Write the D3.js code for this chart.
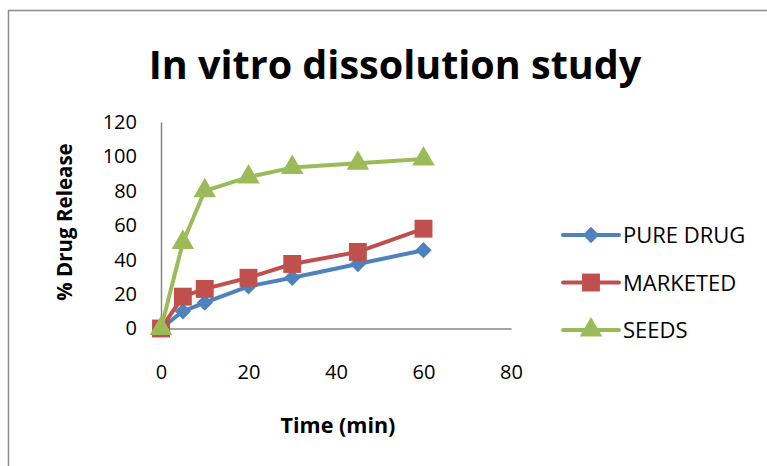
<!DOCTYPE html>
<html>
<head>
<meta charset="utf-8">
<style>
  body { margin: 0; background: white; }
  svg { display: block; font-family: 'Open Sans', 'Liberation Sans', Arial, sans-serif; }
</style>
</head>
<body>
<svg width="767" height="466"></svg>
<script src="https://d3js.org/d3.v7.min.js"></script>
<script>
  // time points (min)
  let times = [0, 5, 10, 20, 30, 45, 60];
  let pureDrug = [0, 10, 15, 24.5, 29.5, 37.5, 45.5];
  let marketed = [0, 18.5, 23, 29.5, 37.5, 44.5, 58];
  let seeds = [0, 50, 80, 88, 93.5, 96, 98.5];
  let xTicks = [0, 20, 40, 60, 80];
  let yTicks = [0, 20, 40, 60, 80, 100, 120];

  let series = [
    {name: "PURE DRUG", values: pureDrug, color: "#4F81BD", symbol: d3.symbolDiamond2, size: 170},
    {name: "MARKETED", values: marketed, color: "#C0504D", symbol: d3.symbolSquare, size: 320},
    {name: "SEEDS", values: seeds, color: "#9BBB59", symbol: d3.symbolTriangle, size: 220}
  ];

  let svg = d3.select("svg");

  // outer frame
  svg.append("rect")
    .attr("x", 8.5).attr("y", 10.5)
    .attr("width", 780).attr("height", 480)
    .style("fill", "none").style("stroke", "#8c8c8c").style("stroke-width", 1.5);

  let x = d3.scaleLinear().domain([0, 80]).range([161, 511]);
  let y = d3.scaleLinear().domain([0, 120]).range([328.5, 122]);

  // axes
  let xAxis = svg.append("g")
    .attr("transform", `translate(0,${y(0)})`)
    .call(d3.axisBottom(x).tickValues(xTicks).tickSize(0).tickPadding(36));
  let yAxis = svg.append("g")
    .attr("transform", `translate(${x(0)},0)`)
    .call(d3.axisLeft(y).tickValues(yTicks).tickSize(0).tickPadding(24));

  [xAxis, yAxis].forEach(a => {
    a.select(".domain").style("stroke", "#868686").style("stroke-width", 1.5);
    a.selectAll("text").style("font-size", "20px").style("fill", "#000")
      .style("font-family", "'Open Sans', 'Liberation Sans', Arial, sans-serif");
  });

  let line = d3.line()
    .x((d, i) => x(times[i]))
    .y(d => y(d));

  series.forEach(s => {
    svg.append("path")
      .datum(s.values)
      .attr("d", line)
      .style("fill", "none")
      .style("stroke", s.color)
      .style("stroke-width", 4)
      .style("stroke-linejoin", "round");

    svg.append("g")
      .selectAll("path")
      .data(s.values)
      .join("path")
      .attr("d", d3.symbol().type(s.symbol).size(s.size))
      .attr("transform", (d, i) => `translate(${x(times[i])},${y(d)})`)
      .style("fill", s.color);
  });

  // title
  svg.append("text")
    .attr("x", 395).attr("y", 79)
    .attr("text-anchor", "middle")
    .style("font-size", "39.5px").style("font-weight", "bold")
    .text("In vitro dissolution study");

  // axis titles
  svg.append("text")
    .attr("transform", "translate(72,222) rotate(-90)")
    .attr("text-anchor", "middle")
    .style("font-size", "20.5px").style("font-weight", "bold")
    .text("% Drug Release");

  svg.append("text")
    .attr("x", 338).attr("y", 433)
    .attr("text-anchor", "middle")
    .style("font-size", "21.5px").style("font-weight", "bold")
    .text("Time (min)");

  // legend
  let legend = svg.append("g")
    .selectAll("g")
    .data(series)
    .join("g")
    .attr("transform", (d, i) => `translate(563,${235 + i * 47.5})`);

  legend.append("line")
    .attr("x1", 0).attr("x2", 56)
    .style("stroke", d => d.color).style("stroke-width", 4)
    .style("stroke-linecap", "round");
  legend.append("path")
    .attr("d", d => d3.symbol().type(d.symbol).size(d.size)())
    .attr("transform", "translate(28,0)")
    .style("fill", d => d.color);
  legend.append("text")
    .attr("x", 60).attr("y", 8)
    .style("font-size", "22px")
    .text(d => d.name);
</script>
</body>
</html>
